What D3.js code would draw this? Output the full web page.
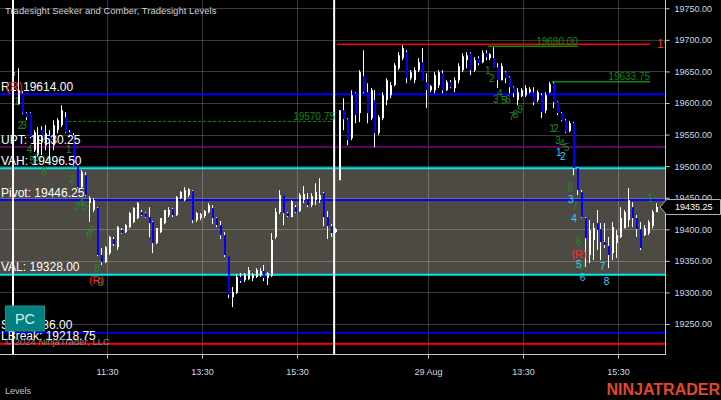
<!DOCTYPE html>
<html><head><meta charset="utf-8">
<script src="https://cdn.jsdelivr.net/npm/d3@7"></script>
<style>
html,body{margin:0;padding:0;background:#000;}
svg{display:block;font-family:"Liberation Sans",Arial,sans-serif;}
</style></head><body>
<svg id="chart" width="721" height="400"></svg>
<script>
// ---------------- DATA ----------------
const opens = [19647.25,19598.0,19615.5,19584.0,19584.0,19525.25,19517.5,19557.0,19533.25,19549.0,
19533.25,19557.0,19565.0,19577.5,19553.75,19549.0,19501.5,19466.75,19485.75,19441.5,
19430.5,19433.5,19359.25,19348.0,19362.25,19384.5,19371.75,19398.75,19395.5,19403.5,
19411.5,19417.75,19427.25,19425.5,19419.25,19411.5,19378.25,19395.5,19409.75,19422.5,
19432.0,19422.5,19449.5,19446.25,19454.0,19460.5,19414.5,19417.75,19421.0,19427.25,
19433.5,19417.75,19406.5,19390.75,19357.5,19292.75,19299.0,19324.5,19319.5,19321.25,
19322.75,19324.5,19327.5,19334.0,19322.75,19326.0,19387.75,19427.25,19454.0,19425.5,
19419.25,19435.0,19428.75,19446.25,19447.75,19438.25,19446.25,19446.25,19457.25,19419.25,
19405.0,19395.5,19477.75,19588.5,19574.25,19544.25,19615.5,19584.0,19642.5,19617.0,
19576.0,19604.5,19552.25,19576.0,19604.5,19612.25,19628.25,19655.0,19671.0,19680.5,
19639.25,19636.0,19652.0,19664.5,19633.0,19620.25,19620.25,19628.25,19647.25,19620.25,
19633.0,19623.5,19636.0,19652.0,19667.75,19678.75,19652.0,19671.0,19664.5,19678.75,
19671.0,19671.0,19656.5,19636.0,19648.75,19640.75,19625.0,19604.5,19610.75,19612.25,
19617.0,19617.0,19604.5,19612.25,19588.5,19617.0,19631.25,19601.25,19584.0,19572.75,
19555.5,19568.0,19496.75,19458.75,19417.75,19359.25,19383.0,19409.75,19400.25,19379.75,
19373.5,19362.25,19378.25,19387.75,19401.75,19414.5,19435.0,19417.75,19400.25,19390.75,
19394.0,19405.0,19427.25];
const highs = [19648.75,19655.0,19618.75,19585.5,19585.5,19557.0,19561.75,19563.25,19565.0,19557.0,
19572.75,19576.0,19596.5,19585.5,19557.0,19552.25,19503.25,19493.75,19490.5,19452.5,
19449.5,19435.0,19370.25,19373.5,19389.25,19387.75,19405.0,19402.0,19408.25,19427.25,
19435.0,19443.0,19430.5,19427.25,19435.0,19413.0,19402.0,19417.75,19430.5,19435.0,
19433.5,19452.5,19460.5,19466.75,19465.25,19462.0,19427.25,19425.5,19430.5,19441.5,
19438.25,19419.25,19413.0,19395.5,19357.5,19308.5,19329.0,19330.75,19330.75,19340.25,
19330.75,19338.5,19338.5,19343.5,19332.25,19394.0,19433.5,19462.0,19454.0,19427.25,
19446.25,19438.25,19457.25,19468.5,19457.25,19457.25,19473.0,19481.0,19459.0,19428.75,
19408.25,19402.0,19588.5,19607.5,19576.0,19620.25,19617.0,19652.0,19683.5,19631.25,
19623.5,19620.25,19580.75,19617.0,19639.25,19633.0,19663.0,19680.5,19691.5,19683.5,
19652.0,19656.5,19671.0,19686.75,19647.25,19628.25,19648.75,19652.0,19652.0,19636.0,
19636.0,19640.75,19663.0,19678.75,19680.5,19680.5,19672.5,19674.0,19683.5,19683.5,
19678.75,19688.25,19663.0,19663.0,19650.25,19642.5,19626.5,19623.5,19623.5,19628.25,
19625.0,19625.0,19620.25,19615.5,19617.0,19633.0,19633.0,19602.75,19585.5,19574.5,
19571.25,19569.5,19498.5,19462.0,19419.25,19414.5,19409.75,19430.5,19409.75,19409.75,
19387.75,19411.5,19398.75,19435.0,19430.5,19465.25,19443.0,19422.5,19411.5,19406.5,
19414.5,19430.5,19441.5];
const lows = [19644.0,19596.5,19582.25,19572.75,19544.25,19522.25,19514.25,19517.5,19525.25,19509.5,
19525.25,19552.25,19561.75,19552.25,19546.0,19500.0,19465.25,19465.25,19452.5,19411.5,
19427.25,19357.5,19343.25,19346.5,19359.25,19373.5,19367.0,19392.5,19394.0,19402.0,
19409.75,19416.0,19421.0,19417.75,19387.75,19362.25,19376.5,19394.0,19408.25,19419.25,
19419.25,19421.0,19447.75,19444.5,19451.0,19409.75,19411.5,19414.5,19417.75,19425.5,
19408.25,19403.5,19384.5,19356.0,19291.0,19276.75,19297.5,19315.0,19316.5,19319.5,
19318.0,19322.75,19324.5,19318.0,19311.75,19324.5,19384.5,19424.0,19406.5,19419.25,
19419.25,19425.5,19427.25,19441.5,19435.0,19435.0,19438.25,19441.5,19405.0,19384.5,
19387.75,19394.0,19477.75,19557.0,19533.25,19541.0,19568.0,19569.75,19615.5,19568.0,
19572.75,19530.0,19549.0,19572.75,19596.5,19607.5,19626.5,19652.0,19667.75,19631.25,
19636.0,19631.25,19648.75,19636.0,19591.75,19617.0,19615.5,19623.5,19615.5,19618.75,
19623.5,19617.0,19631.25,19648.75,19655.0,19644.0,19648.75,19659.75,19663.0,19667.75,
19667.75,19656.5,19623.5,19636.0,19631.25,19615.5,19609.25,19596.5,19609.25,19609.25,
19615.5,19596.5,19601.25,19576.0,19584.0,19615.5,19591.75,19580.75,19571.25,19552.25,
19553.75,19485.75,19454.0,19417.75,19340.25,19346.5,19351.25,19367.0,19351.25,19370.25,
19338.5,19351.25,19354.5,19386.0,19401.75,19403.5,19403.5,19387.75,19367.0,19389.25,
19390.75,19401.75,19427.25];
const closes = [19645.5,19620.25,19584.0,19577.5,19546.0,19553.75,19549.0,19549.0,19552.25,19541.0,
19565.0,19572.75,19588.5,19553.75,19549.0,19501.5,19466.75,19490.5,19454.0,19449.5,
19446.25,19359.25,19348.0,19371.75,19387.75,19376.5,19403.5,19394.0,19406.75,19425.5,
19433.5,19441.5,19422.5,19419.25,19409.75,19378.25,19402.0,19417.75,19430.5,19430.5,
19422.5,19451.0,19459.0,19462.0,19463.5,19414.5,19425.5,19424.0,19428.75,19438.25,
19417.75,19406.5,19390.75,19359.25,19296.0,19300.5,19324.5,19318.0,19327.5,19335.5,
19327.5,19335.5,19334.0,19322.75,19330.75,19383.0,19427.25,19454.0,19425.5,19421.0,
19444.5,19427.25,19454.0,19455.75,19438.25,19452.5,19459.0,19454.0,19419.25,19405.0,
19394.0,19400.25,19588.5,19574.25,19541.0,19612.25,19580.75,19648.75,19617.0,19584.0,
19620.25,19552.25,19577.5,19612.25,19636.0,19628.25,19659.75,19675.5,19686.75,19639.25,
19648.75,19652.0,19664.5,19636.0,19620.25,19626.5,19644.0,19648.75,19620.25,19633.0,
19625.0,19636.0,19658.25,19674.0,19675.5,19652.0,19667.75,19663.0,19678.75,19672.5,
19677.25,19656.5,19636.0,19658.25,19639.25,19625.0,19615.5,19617.0,19620.25,19623.5,
19621.75,19601.25,19617.0,19585.5,19612.25,19629.75,19601.25,19584.0,19572.75,19553.75,
19568.0,19496.75,19462.0,19419.25,19386.0,19398.75,19402.0,19398.75,19379.75,19375.0,
19359.25,19403.5,19390.75,19417.75,19427.25,19446.25,19417.75,19400.25,19370.25,19401.75,
19411.5,19427.25,19435.25];

const sessionStarts = [0, 81];
const timeTickIdx = [23.5, 47.5, 71.5, 104.5, 128.5, 152.5];
const timeTickLabels = ["11:30", "13:30", "15:30", "29 Aug", "13:30", "15:30"];
const priceTicks = [19250, 19300, 19350, 19400, 19450, 19500, 19550, 19600, 19650, 19700, 19750];

const levelNames  = ["R1", "UPT", "VAH", "Pivot", "VAL", "S1", "LBreak"];
const levelValues = [19614.00, 19530.25, 19496.50, 19446.25, 19328.00, 19236.00, 19218.75];
const levelColors = ["#0000ff", "#800080", "#00e8f0", "#0000ff", "#00e8f0", "#0000e0", "#ff0000"];
const valueArea = [19496.50, 19328.00];

const segValues = [19570.75, 19690.00, 19633.75, 19693.00];
const segStart  = [13.7, 119.6, 135.8, 81.5];
const segEnd    = [81.0, 142.3, 160.5, 160.5];
const segColors = ["#0a8a0a", "#0a8a0a", "#0a8a0a", "#ff0000"];
const segDash   = [true, false, false, false];
const segLabelSide = ["end", "end", "end", "after"];

const markIdx   = [0.76,1.7,2.6,3.9,4.6,5.8,6.6,7.6,8.8,13.9,14.7,16.0,17.0,18.0,19.0,19.7,21.0,21.8,
  20.9,
  119.6,120.6,121.6,122.6,123.6,124.7,125.6,126.6,127.7,135.8,136.8,137.3,138.3,139.5,140.3,141.6,142.5,143.5,160.5,
  137.5,138.5,140.5,141.3,142.5,143.5,148.5,149.5,
  142.6];
const markPrice = [19601.7,19564.9,19564.9,19526.9,19509.5,19514.2,19509.5,19492.1,19509.5,19526.9,19479.4,19436.7,19441.5,19436.7,19392.4,19398.7,19338.6,19316.4,
  19319.6,
  19650.8,19639.2,19606.0,19615.5,19604.4,19606.0,19578.0,19582.3,19590.2,19560.1,19560.1,19541.1,19536.4,19528.9,19466.8,19436.7,19380.2,19342.2,19449.4,
  19521.0,19514.7,19447.8,19417.7,19344.5,19323.3,19341.8,19316.9,
  19360.8];
const markText = ["1","2","3","4","5","6","7","8","9","1","2","3","4","5","6","7","8","9",
  "(R)",
  "1","2","3","4","5","6","7","8","9","1","2","3","4","5","6","7","8","9","1",
  "1","2","3","4","5","6","7","8",
  "(R)"];
const markKind = ["g","g","g","g","g","g","g","g","g","g","g","g","g","g","g","g","g","g",
  "r",
  "g","g","g","g","g","g","g","g","g","g","g","g","g","g","g","g","g","g","g",
  "c","c","c","c","c","c","c","c",
  "r"];
const markColors = {g: "#1e8a1e", c: "#2ad6f2", r: "#ff2a2a"};

const lastPrice = 19435.25;
const titleText = "Tradesight Seeker and Comber, Tradesight Levels";

// ---------------- DRAW ----------------
const W = 721, H = 400, PW = 665, PH = 354;
const x = d3.scaleLinear().domain([0, 162]).range([13.7, 656]);
const y = d3.scaleLinear().domain([19202.5, 19763.1]).range([PH, 0]);

const svg = d3.select("#chart");
svg.append("rect").attr("width", W).attr("height", H).attr("fill", "#000");
svg.append("defs").append("clipPath").attr("id", "pc")
  .append("rect").attr("x", 0).attr("y", 0).attr("width", PW).attr("height", PH);
const plot = svg.append("g").attr("clip-path", "url(#pc)");

// value area
plot.append("rect").attr("x", 0).attr("width", PW)
  .attr("y", y(valueArea[0])).attr("height", y(valueArea[1]) - y(valueArea[0]))
  .attr("fill", "#4d4a44");

// grid
const gridCol = "rgba(255,255,255,0.22)";
plot.selectAll("line.hg").data(priceTicks).join("line").attr("class", "hg")
  .attr("x1", 0).attr("x2", PW)
  .attr("y1", d => Math.round(y(d)) + 0.5).attr("y2", d => Math.round(y(d)) + 0.5)
  .attr("stroke", gridCol);
plot.selectAll("line.vg").data(timeTickIdx).join("line").attr("class", "vg")
  .attr("y1", 0).attr("y2", PH)
  .attr("x1", d => Math.round(x(d)) + 0.5).attr("x2", d => Math.round(x(d)) + 0.5)
  .attr("stroke", gridCol);

// level lines
plot.selectAll("line.lv").data(levelValues).join("line").attr("class", "lv")
  .attr("x1", 0).attr("x2", PW)
  .attr("y1", d => y(d)).attr("y2", d => y(d))
  .attr("stroke", (d, i) => levelColors[i])
  .attr("stroke-width", (d, i) => levelNames[i] === "UPT" ? 1.5 : 2);

// segment lines
plot.selectAll("line.sg").data(segValues).join("line").attr("class", "sg")
  .attr("x1", (d, i) => x(segStart[i])).attr("x2", (d, i) => x(segEnd[i]))
  .attr("y1", d => y(d)).attr("y2", d => y(d))
  .attr("stroke", (d, i) => segColors[i])
  .attr("stroke-width", (d, i) => segDash[i] ? 1 : 1.5)
  .attr("stroke-dasharray", (d, i) => segDash[i] ? "3,2" : null);

// session break lines
plot.selectAll("line.ss").data(sessionStarts).join("line").attr("class", "ss")
  .attr("x1", d => x(d) - 0.7).attr("x2", d => x(d) - 0.7)
  .attr("y1", 0).attr("y2", PH)
  .attr("stroke", "#ffffff").attr("stroke-width", 2);

// candles
const bars = d3.range(opens.length);
const gc = plot.append("g");
gc.selectAll("line.wk").data(bars).join("line").attr("class", "wk")
  .attr("x1", i => Math.round(x(i)) + 0.5).attr("x2", i => Math.round(x(i)) + 0.5)
  .attr("y1", i => y(highs[i])).attr("y2", i => y(lows[i]))
  .attr("stroke", "#ffffff").attr("stroke-width", 1);
gc.selectAll("rect.bd").data(bars).join("rect").attr("class", "bd")
  .attr("x", i => Math.round(x(i)))
  .attr("width", 2)
  .attr("y", i => y(Math.max(opens[i], closes[i])))
  .attr("height", i => Math.max(1, Math.abs(y(opens[i]) - y(closes[i]))))
  .attr("fill", i => closes[i] >= opens[i] ? "#ffffff" : "#0000ff");

// segment labels
plot.selectAll("text.sgl").data(segValues).join("text").attr("class", "sgl")
  .attr("x", (d, i) => segLabelSide[i] === "end" ? x(segEnd[i]) : x(segEnd[i]) + 7)
  .attr("y", (d, i) => segLabelSide[i] === "end" ? y(d) - 1.5 : y(d) + 4)
  .attr("text-anchor", (d, i) => segLabelSide[i] === "end" ? "end" : "start")
  .attr("font-size", (d, i) => segLabelSide[i] === "end" ? 10 : 12)
  .attr("fill", (d, i) => segLabelSide[i] === "end" ? segColors[i] : "#f03c14")
  .text(d => d.toFixed(2));

// count marks
plot.selectAll("text.mk").data(markIdx).join("text").attr("class", "mk")
  .attr("x", d => x(d)).attr("y", (d, i) => y(markPrice[i]))
  .attr("text-anchor", "middle").attr("dominant-baseline", "central")
  .attr("font-size", (d, i) => markKind[i] === "r" ? 11 : 10)
  .attr("fill", (d, i) => markColors[markKind[i]])
  .text((d, i) => markText[i]);

// level labels
plot.selectAll("text.lvl").data(levelValues).join("text").attr("class", "lvl")
  .attr("x", 1).attr("y", d => y(d) - 3.5)
  .attr("font-size", 12).attr("fill", "#ffffff")
  .text((d, i) => levelNames[i] + ": " + d.toFixed(2));
plot.append("text").attr("x", 6).attr("y", y(levelValues[0]) - 3.5)
  .attr("font-size", 12).attr("fill", "#ff2020").text("(R)");

// right axis
const yAxis = d3.axisRight(y).tickValues(priceTicks).tickFormat(d3.format(".2f"))
  .tickSize(4).tickSizeOuter(0).tickPadding(5);
const ga = svg.append("g").attr("transform", "translate(665.5,0)").call(yAxis);
ga.select(".domain").remove();
ga.selectAll("line").attr("stroke", "#c8c8c8");
ga.selectAll("text").attr("fill", "#d0d8e6").attr("font-size", 9)
  .attr("font-family", "'Liberation Sans',Arial,sans-serif");

// bottom axis
const xAxis = d3.axisBottom(x).tickValues(timeTickIdx).tickFormat((d, i) => timeTickLabels[i])
  .tickSize(4).tickSizeOuter(0).tickPadding(10);
const gb = svg.append("g").attr("transform", "translate(0,354.5)").call(xAxis);
gb.select(".domain").remove();
gb.selectAll(".tick").attr("transform", d => "translate(" + (Math.round(x(d)) + 0.5) + ",0)");
gb.selectAll("line").attr("stroke", "#c8c8c8");
gb.selectAll("text").attr("fill", "#d0d8e6").attr("font-size", 9)
  .attr("font-family", "'Liberation Sans',Arial,sans-serif");

// axis frame lines
svg.append("line").attr("x1", 665.5).attr("x2", 665.5).attr("y1", 0).attr("y2", 355)
  .attr("stroke", "#c8c8c8");
svg.append("line").attr("x1", 0).attr("x2", 666).attr("y1", 354.5).attr("y2", 354.5)
  .attr("stroke", "#c8c8c8");

// last price marker
const yl = y(lastPrice);
svg.append("path")
  .attr("d", `M660,${yl} L666.5,${yl - 7.5} L720.5,${yl - 7.5} L720.5,${yl + 7.5} L666.5,${yl + 7.5} Z`)
  .attr("fill", "#000").attr("stroke", "#b4b4b4").attr("stroke-width", 1);
svg.append("text").attr("x", 675).attr("y", yl).attr("dominant-baseline", "central")
  .attr("font-size", 9).attr("fill", "#ffffff").text(lastPrice.toFixed(2));

// title
svg.append("text").attr("x", 5).attr("y", 13.5).attr("font-size", 9.5).attr("fill", "#d2d2d2")
  .text(titleText);

// PC box
svg.append("rect").attr("x", 5.5).attr("y", 306).attr("width", 39).attr("height", 25)
  .attr("fill", "#008080").attr("stroke", "#1a9090");
svg.append("text").attr("x", 25).attr("y", 319).attr("text-anchor", "middle")
  .attr("dominant-baseline", "central").attr("font-size", 14.5).attr("fill", "#d8eeee").text("PC");

// copyright
svg.append("text").attr("x", 5).attr("y", 345).attr("font-size", 9.5).attr("fill", "#8a8a8a")
  .text("\u00a9 2024 NinjaTrader, LLC");

// bottom-left panel label
svg.append("text").attr("x", 5).attr("y", 394).attr("font-size", 9).attr("fill", "#c4c4c4").text("Levels");

// logo
svg.append("text").attr("x", 720).attr("y", 395).attr("text-anchor", "end")
  .attr("font-size", 16).attr("font-weight", "bold").attr("fill", "#e5462b").text("NINJATRADER");
</script>
</body></html>
